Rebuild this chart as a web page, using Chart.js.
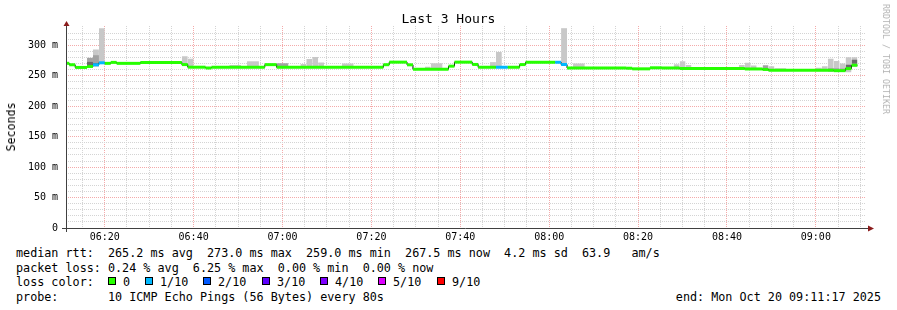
<!DOCTYPE html>
<html><head><meta charset="utf-8">
<script src="https://cdn.jsdelivr.net/npm/chart.js@4/dist/chart.umd.min.js"></script>
<style>
html,body{margin:0;padding:0;background:#fff;}
#wrap{position:relative;width:897px;height:310px;overflow:hidden;font-family:"DejaVu Sans Mono",monospace;color:#000;}
#c{position:absolute;left:0;top:0;}
.t{position:absolute;white-space:pre;font-size:11.75px;line-height:14px;}
.title{position:absolute;left:0;top:11px;width:897px;text-align:center;font-size:13px;line-height:16px;}
.ylab{position:absolute;left:11px;top:127px;transform:translate(-50%,-50%) rotate(-90deg);font-size:11.6px;white-space:pre;}
.wm{position:absolute;left:886px;top:59px;transform:translate(-50%,-50%) rotate(90deg);font-size:8.3px;color:#b4b4b4;white-space:pre;}
.sq{position:absolute;width:6px;height:6px;border:1px solid #000;top:277px;}
</style></head>
<body>
<div id="wrap">
<canvas id="c" width="897" height="245"></canvas>
<div class="title">Last 3 Hours</div>
<div class="ylab">Seconds</div>
<div class="wm">RRDTOOL / TOBI OETIKER</div>
<div class="t" style="left:16px;top:246px;">median rtt:  265.2 ms avg  273.0 ms max  259.0 ms min  267.5 ms now  4.2 ms sd  63.9   am/s</div>
<div class="t" style="left:16px;top:261px;">packet loss: 0.24 % avg  6.25 % max  0.00 % min  0.00 % now</div>
<div class="t" style="left:16px;top:275px;">loss color:</div>
<div id="lossLegend"></div>
<div class="t" style="left:16px;top:290px;">probe:       10 ICMP Echo Pings (56 Bytes) every 80s</div>
<div class="t" style="right:16px;top:290px;">end: Mon Oct 20 09:11:17 2025</div>
</div>
<script>
// ---------- data ----------
const rangeStart = "06:11:17";
const rangeEnd = "09:11:17";
const xTickLabels = ["06:20","06:40","07:00","07:20","07:40","08:00","08:20","08:40","09:00"];
const yTickLabels = ["0","50 m","100 m","150 m","200 m","250 m","300 m"];

// median rtt (ms) per step segment, with loss (pings lost out of 10)
const medianStart = ["06:11:17","06:12:01","06:13:21","06:16:01","06:17:21","06:18:41","06:20:01","06:21:21","06:22:41","06:28:01","06:37:21","06:38:41","06:42:41","06:44:01","06:56:01","06:58:41","07:22:41","07:24:01","07:28:01","07:29:21","07:37:21","07:38:41","07:42:41","07:44:01","07:48:01","07:50:41","07:53:21","07:54:41","08:01:21","08:02:41","08:04:01","08:17:21","08:18:41","08:22:41","08:25:21","08:29:21","08:44:01","08:48:01","08:49:21","09:04:01","09:06:41","09:08:01"];
const medianValue = [270.7,268.3,263.9,265.5,268.2,271.5,270.6,272.2,270.6,272.2,268.6,264.3,263.0,264.2,268.5,264.0,268.4,272.6,268.2,261.1,266.0,272.6,268.8,264.2,264.2,264.2,268.6,272.4,272.4,268.7,263.0,262.6,261.6,263.3,263.0,262.3,261.4,260.6,259.2,258.6,262.0,267.5];
const medianLoss = [0,0,0,0,1,1,0,0,0,0,0,0,0,0,0,0,0,0,0,0,0,0,0,0,1,0,0,0,1,1,0,0,0,0,0,0,0,0,0,0,0,0];
const medianEnd = "09:09:21";

// smoke: outer (light) ping spread
const lightStart = ["06:17:21","06:18:41","06:37:21","06:38:41","06:48:01","06:52:01","07:04:01","07:05:21","07:06:41","07:08:01","07:13:21","07:32:01","07:33:21","07:46:41","07:48:01","08:02:41","08:05:21","08:28:01","08:29:21","08:30:41","08:42:41","08:44:01","08:45:21","08:49:21","08:50:41","09:00:01","09:01:21","09:02:41","09:04:01","09:05:21","09:06:41","09:08:01"];
const lightEnd = ["06:18:41","06:20:01","06:38:41","06:40:01","06:50:41","06:54:41","07:05:21","07:06:41","07:08:01","07:09:21","07:16:01","07:33:21","07:36:01","07:48:01","07:49:21","08:04:01","08:08:01","08:29:21","08:30:41","08:32:01","08:44:01","08:45:21","08:46:41","08:50:41","08:53:21","09:01:21","09:02:41","09:04:01","09:05:21","09:06:41","09:08:01","09:09:21"];
const lightLow = [266,270,267,263,263,263,263,263,263,263,263,260,260,263,263,267,262,261,261,261,261,260,260,258,258,257.5,257.5,257,256.5,256.5,256,265];
const lightHigh = [293.4,328.4,282.4,278.0,268.0,274.0,269.5,277.7,281.0,272.0,270.2,265.0,270.9,272.6,289.2,328.4,270.4,269.3,274.0,267.7,268.0,271.5,267.0,266.0,262.7,263.5,266.0,278.0,274.5,270.4,280.8,280.5];

// smoke: middle spread
const midStart = ["06:16:01","06:17:21","06:58:41","08:48:01","09:02:41","09:05:21"];
const midEnd = ["06:17:21","06:18:41","07:01:21","08:49:21","09:05:21","09:06:41"];
const midLow = [264,266,263,259,257.5,257.5];
const midHigh = [279.7,284.0,270.7,267.5,262.5,262.0];

// smoke: inner (dark) spread
const darkStart = ["06:16:01","06:17:21","09:06:41","09:08:01"];
const darkEnd = ["06:17:21","06:18:41","09:08:01","09:09:21"];
const darkLow = [265,266,263.5,270];
const darkHigh = [273,271,268.2,276.5];

const lossLabels = ["0","1/10","2/10","3/10","4/10","5/10","9/10"];
const lossLevels = [0,1,2,3,4,5,9];
const lossColors = ["#26ff00","#00b8ff","#0059ff","#5e00ff","#7e00ff","#dd00ff","#ff0000"];

// ---------- helpers ----------
function toMin(s){const p=s.split(':').map(Number);return p[0]*60+p[1]+p[2]/60;}
function boxes(starts, ends, vals){
  const out=[];
  for(let i=0;i<starts.length;i++){
    out.push({x:toMin(starts[i]),y:vals[i],s:i});
    out.push({x:toMin(ends[i]),y:vals[i],s:i});
    out.push({x:toMin(ends[i]),y:null,s:i});
  }
  return out;
}
function colorForLoss(l){const k=lossLevels.indexOf(l);return lossColors[k<0?lossColors.length-1:k];}

// legend squares
(function(){
  const sqX=[108,145,203,262,320,378,437];
  const host=document.getElementById('lossLegend');
  lossLabels.forEach((lab,i)=>{
    const q=document.createElement('div');q.className='sq';q.style.left=sqX[i]+'px';q.style.background=lossColors[i];host.appendChild(q);
    const t=document.createElement('div');t.className='t';t.style.left=(sqX[i]+15)+'px';t.style.top='275px';t.textContent=lab;host.appendChild(t);
  });
})();

const medianEdges = medianStart.concat([medianEnd]);
const medianColored = boxes(medianStart, medianStart.map((s,i)=>medianEdges[i+1]), medianValue);
const medianStep = medianStart.map((t,i)=>({x:toMin(t),y:medianValue[i]})).concat([{x:toMin(medianEnd),y:medianValue[medianValue.length-1]}]);

const RED='#f4aaaa', GRAY='#d4d4d4';

const axesPlugin={
  id:'rrdAxes',
  afterDraw(chart){
    const {ctx,chartArea:a}=chart;
    ctx.save();
    ctx.strokeStyle='#404040';ctx.lineWidth=1;
    ctx.beginPath();
    ctx.moveTo(a.left-4,a.bottom+0.5);ctx.lineTo(a.right+3,a.bottom+0.5);
    ctx.moveTo(a.left+0.5,a.bottom+4);ctx.lineTo(a.left+0.5,a.top-1);
    ctx.stroke();
    ctx.fillStyle='#8b1c1c';
    ctx.beginPath();
    ctx.moveTo(a.right+2,a.bottom+0.5-3);ctx.lineTo(a.right+8,a.bottom+0.5);ctx.lineTo(a.right+2,a.bottom+0.5+3);ctx.closePath();ctx.fill();
    ctx.beginPath();
    ctx.moveTo(a.left+0.5-3,a.top);ctx.lineTo(a.left+0.5,a.top-5);ctx.lineTo(a.left+0.5+3,a.top);ctx.closePath();ctx.fill();
    ctx.restore();
  }
};

const base={pointRadius:0,pointHoverRadius:0,borderWidth:0,tension:0,spanGaps:false};
new Chart(document.getElementById('c'),{
  type:'line',
  data:{datasets:[
    Object.assign({},base,{label:'light hi',data:boxes(lightStart,lightEnd,lightHigh),fill:'+1',backgroundColor:'#c8c8c8',order:10}),
    Object.assign({},base,{label:'light lo',data:boxes(lightStart,lightEnd,lightLow),fill:false,order:10}),
    Object.assign({},base,{label:'mid hi',data:boxes(midStart,midEnd,midHigh),fill:'+1',backgroundColor:'#a2a2a2',order:9}),
    Object.assign({},base,{label:'mid lo',data:boxes(midStart,midEnd,midLow),fill:false,order:9}),
    Object.assign({},base,{label:'dark hi',data:boxes(darkStart,darkEnd,darkHigh),fill:'+1',backgroundColor:'#6a6a6a',order:8}),
    Object.assign({},base,{label:'dark lo',data:boxes(darkStart,darkEnd,darkLow),fill:false,order:8}),
    Object.assign({},base,{label:'median',data:medianStep,stepped:'before',borderWidth:1,borderColor:'#000',fill:false,order:2}),
    Object.assign({},base,{label:'median loss',data:medianColored,borderWidth:3,borderColor:'#26ff00',fill:false,order:1,
      segment:{borderColor:ctx=>colorForLoss(medianLoss[medianColored[ctx.p0DataIndex].s])}})
  ]},
  options:{
    responsive:false,animation:false,devicePixelRatio:1,
    layout:{padding:{left:0,right:31,top:26,bottom:0}},
    plugins:{legend:{display:false},tooltip:{enabled:false},title:{display:false}},
    events:[],
    scales:{
      x:{type:'linear',min:toMin(rangeStart),max:toMin(rangeEnd),
        afterBuildTicks:s=>{const t=[];for(let v=Math.ceil(s.min/5)*5;v<=s.max;v+=5)t.push({value:v});s.ticks=t;},
        afterFit:s=>{s.height=17;},
        ticks:{autoSkip:false,maxRotation:0,minRotation:0,padding:3,color:'#000',font:{family:'DejaVu Sans Mono',size:10},
          callback:v=>{if(v%20!==0)return '';const k=(v-380)/20;return xTickLabels[k]!==undefined?xTickLabels[k]:'';}},
        grid:{drawTicks:false,lineWidth:1,color:c=>(c.tick&&c.tick.value%20===0)?RED:GRAY},
        border:{display:false,dash:[1,1]}},
      y:{type:'linear',min:0,max:332,
        afterBuildTicks:s=>{const t=[];for(let v=0;v<=320;v+=10)t.push({value:v});s.ticks=t;},
        afterFit:s=>{s.width=66;},
        ticks:{autoSkip:false,padding:8,color:'#000',font:{family:'DejaVu Sans Mono',size:10},
          callback:v=>{if(v%50!==0)return '';const k=v/50;return yTickLabels[k]!==undefined?yTickLabels[k]:'';}},
        grid:{drawTicks:false,lineWidth:1,color:c=>(c.tick&&c.tick.value%50===0)?RED:GRAY},
        border:{display:false,dash:[1,1]}}
    }
  },
  plugins:[axesPlugin]
});
</script>
</body></html>
